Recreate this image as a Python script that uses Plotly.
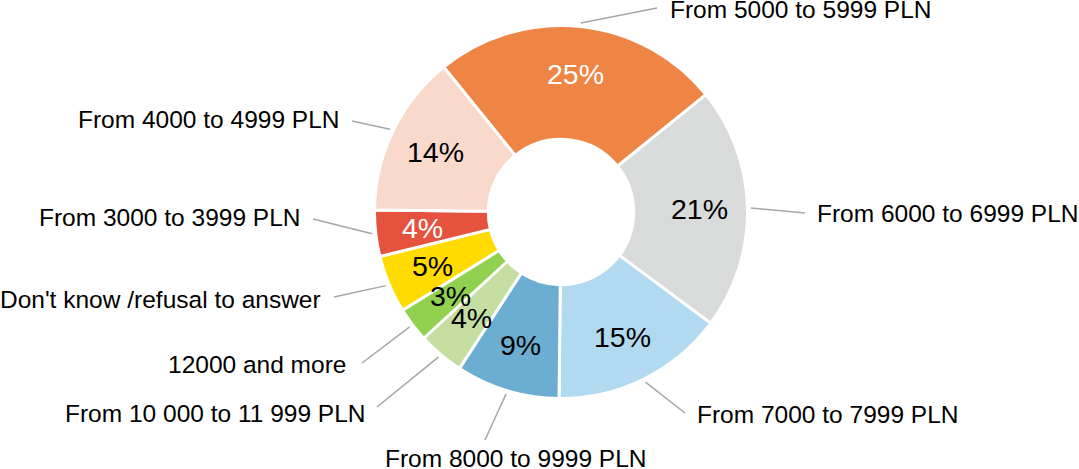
import math
import plotly.graph_objects as go

# income brackets, clockwise from the orange slice
labels = ["From 5000 to 5999 PLN", "From 6000 to 6999 PLN", "From 7000 to 7999 PLN",
          "From 8000 to 9999 PLN", "From 10 000 to 11 999 PLN", "12000 and more",
          "Don't know /refusal to answer", "From 3000 to 3999 PLN", "From 4000 to 4999 PLN"]
shares = [25, 21, 15, 9, 4, 3, 5, 4, 14]
colors = ["#EE8545", "#D9DADA", "#B1DAF1", "#6BAED2", "#C4DDA0", "#92D050",
          "#FFDB00", "#E5533F", "#F8D9CC"]
pct_colors = ["white", "black", "black", "black", "black", "black", "black", "white", "black"]

W, H = 1079, 469
CX, CY, R = 561, 212, 186.5   # pie centre / radius in px
HOLE = 0.39
ROT = -39

# outside label placement (px) : text anchor, anchor side, leader line end
lab_pos = [(668, 10, "left"), (815, 213, "left"), (695, 414, "left"),
           (516, 458, "center"), (368, 413, "right"), (348, 364, "right"),
           (323, 299, "right"), (303, 218, "right"), (342, 119, "right")]
line_end = [(657, 8), (805, 213), (685, 413), (485, 440), (377, 407),
            (362, 363), (334, 297), (313, 219), (352, 121)]


def px(x, y):
    return x / W, 1 - y / H


fig = go.Figure()
fig.add_trace(go.Pie(
    labels=labels, values=shares, sort=False, direction="clockwise",
    rotation=ROT, hole=HOLE, textinfo="none", hoverinfo="label+percent",
    marker=dict(colors=colors, line=dict(color="white", width=3)),
    domain=dict(x=[(CX - R) / W, (CX + R) / W], y=[1 - (CY + R) / H, 1 - (CY - R) / H]),
    showlegend=False,
))

total = sum(shares)
ann = []
shapes = []
cum = 0
for i, v in enumerate(shares):
    mid = math.radians(ROT + 360 * (cum + v / 2) / total)
    cum += v
    # percent label in the ring
    rl = 139
    x, y = px(CX + rl * math.sin(mid), CY - rl * math.cos(mid))
    ann.append(dict(x=x, y=y, xref="paper", yref="paper", showarrow=False,
                    xanchor="center", yanchor="middle",
                    text=f"{round(100 * v / total)}%",
                    font=dict(size=28.5, color=pct_colors[i], family="Liberation Sans, Arial")))
    # leader line
    x0, y0 = px(CX + 190 * math.sin(mid), CY - 190 * math.cos(mid))
    x1, y1 = px(*line_end[i])
    shapes.append(dict(type="line", xref="paper", yref="paper", x0=x0, y0=y0, x1=x1, y1=y1,
                       line=dict(color="#A6A6A6", width=1.5)))
    tx, ty, side = lab_pos[i]
    x, y = px(tx, ty)
    ann.append(dict(x=x, y=y, xref="paper", yref="paper", showarrow=False, text=labels[i],
                    xanchor=side, yanchor="middle",
                    font=dict(size=24.5, color="black", family="Liberation Sans, Arial")))

fig.update_layout(
    width=W, height=H,
    margin=dict(l=0, r=0, t=0, b=0),
    paper_bgcolor="white", plot_bgcolor="white",
    annotations=ann, shapes=shapes,
)
fig.write_html("out.html", config={"displayModeBar": False},
               post_script="document.body.style.margin='0';")
